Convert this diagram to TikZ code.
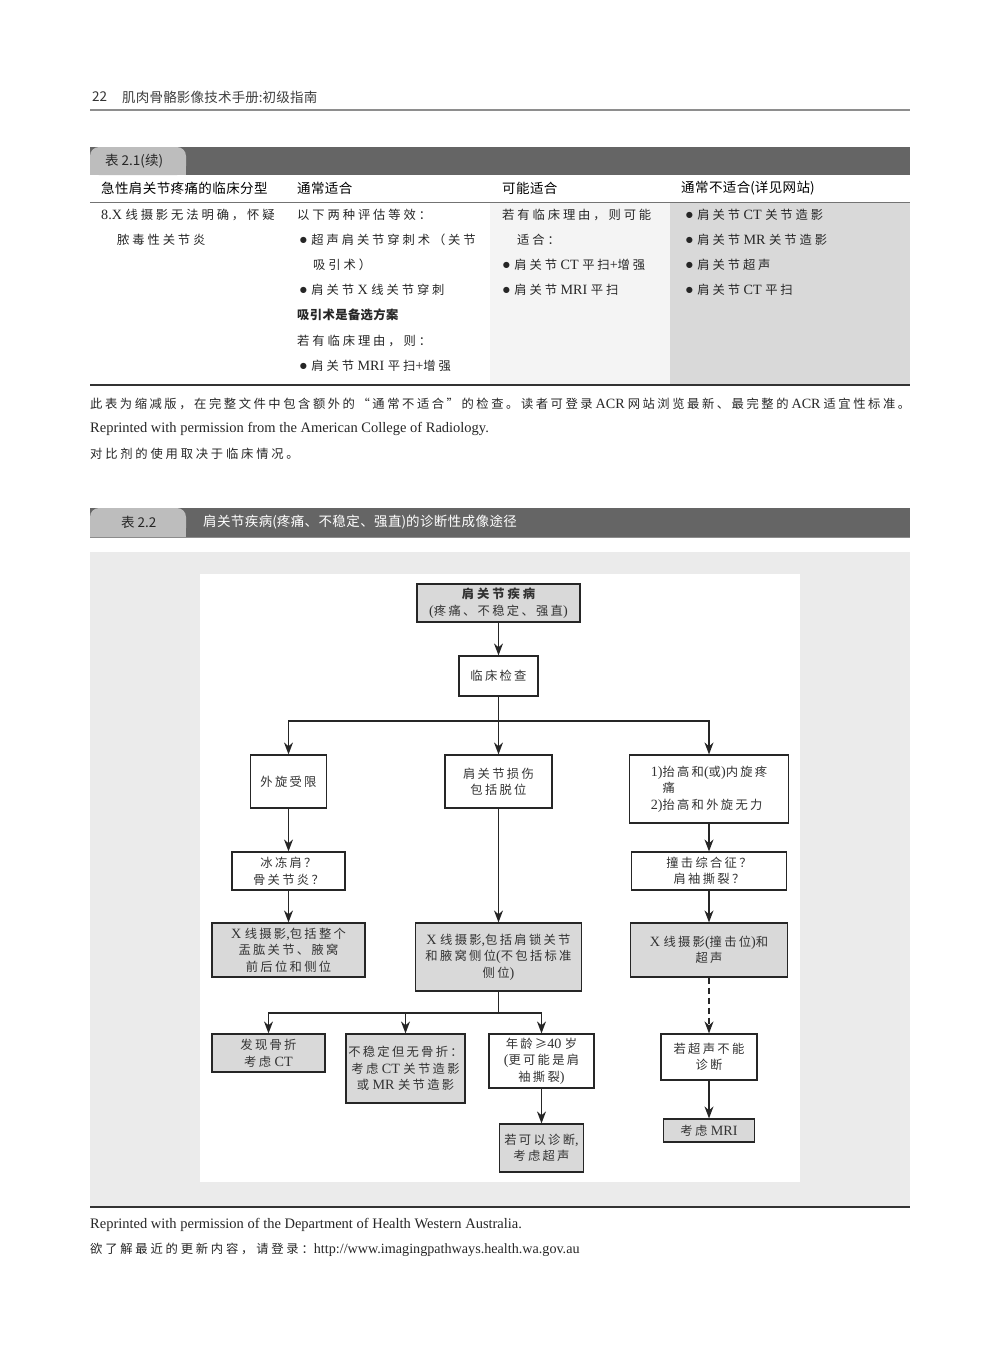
\documentclass[tikz,border=0pt]{standalone}
\usepackage{fontspec}
\setmainfont{Liberation Serif}[Scale=1.15]
\newfontfamily\cjk{Noto Sans CJK SC}
\usetikzlibrary{arrows.meta}

\definecolor{bardark}{HTML}{656565}
\definecolor{tabgray}{HTML}{BDBDBD}
\definecolor{colthree}{HTML}{F4F4F4}
\definecolor{colfour}{HTML}{D9D9D9}
\definecolor{panel}{HTML}{EBEBEB}
\definecolor{boxgray}{HTML}{D9D9D9}
\definecolor{boxline}{HTML}{262626}
\definecolor{headrule}{HTML}{8E8E8E}

% switch to the CJK font for Chinese characters
\XeTeXinterchartokenstate=1
\newXeTeXintercharclass\CJKcls
\newcount\cjkc
\newdimen\cjkgap
\newcommand\setgap[1]{\cjkgap #1\relax}
\newcommand\latinfont{\rmfamily}
\newcommand\allcjk{\cjk\let\latinfont\cjk}
\newcommand\bul{{\fontsize{12.5}{12}\selectfont ●}}
\def\cjkrange#1#2{\cjkc=#1\relax
  \loop\XeTeXcharclass\cjkc=\CJKcls\relax
  \ifnum\cjkc<#2\advance\cjkc by 1\relax\repeat}
\cjkrange{"3000}{"303F}
\cjkrange{"4E00}{"9FFF}
\cjkrange{"FF00}{"FFEF}
\XeTeXcharclass"2265=\CJKcls
\XeTeXcharclass"201C=\CJKcls
\XeTeXcharclass"201D=\CJKcls
\XeTeXinterchartoks 0 \CJKcls={\cjk}
\XeTeXinterchartoks 4095 \CJKcls={\cjk}
\XeTeXinterchartoks \CJKcls 0={\latinfont}
\XeTeXinterchartoks \CJKcls 4095={\latinfont}
\XeTeXinterchartoks \CJKcls \CJKcls={\hskip\cjkgap plus 1pt minus 0.5pt}

\begin{document}
\begin{tikzpicture}[x=1pt,y=-1pt,
  box/.style={draw=boxline,line width=1.2pt,fill=white,align=center,inner sep=2pt,
              text=black!80,font={\fontsize{12.3}{16.5}\selectfont\setgap{2.3pt}}},
  graybox/.style={box,fill=boxgray},
  arr/.style={-{Stealth[length=12pt,width=9pt]},line width=1.2pt,draw=boxline},
  bus/.style={line width=1.2pt,draw=boxline},
  txt/.style={anchor=west,inner sep=0pt,text=black!85,
              font={\fontsize{12.3}{14}\selectfont\setgap{2.8pt}}},
  cell/.style={anchor=north west,inner sep=0pt,align=left,text=black!85,
               font={\fontsize{12.3}{25.2}\selectfont\setgap{2.9pt}}},
  latin/.style={anchor=west,inner sep=0pt,text=black!85,font={\fontsize{12.6}{16}\selectfont}},
  head/.style={anchor=west,inner sep=0pt,text=black!85,
               font={\allcjk\fontsize{13.5}{16}\selectfont\setgap{0.4pt}}},
  tablerule/.style={line width=1.4pt,draw=black!80},
]
\useasboundingbox (0,0) rectangle (1000,1366);
\fill[white] (0,0) rectangle (1000,1366);

% running head
\node[head,text=black!80] (pagenum) at (92,97) {22};
\node[head,text=black!75,font={\allcjk\fontsize{13.5}{16}\selectfont\setgap{0.2pt}}] (runhead) at (122,97) {肌肉骨骼影像技术手册:初级指南};
\draw[line width=2pt,headrule] (90,110) -- (910,110);

% table 2.1
\fill[bardark] (90,147) rectangle (910,175);
\fill[tabgray,rounded corners=9pt] (90,147) rectangle (186,175);
\fill[tabgray] (90,162) rectangle (186,175);
\node[head] (tabone) at (105,161) {表 2.1(续)};
\node[head,text=black] (colA) at (101,188) {急性肩关节疼痛的临床分型};
\node[head,text=black] (colB) at (297,188) {通常适合};
\node[head,text=black] (colC) at (502,188) {可能适合};
\node[head,text=black] (colD) at (681,188) {通常不适合(详见网站)};
\fill[colthree] (490,202) rectangle (670,385);
\fill[colfour] (670,202) rectangle (910,385);
\draw[line width=0.8pt,black!55] (90,202) -- (910,202);
\draw[tablerule] (90,385) -- (910,385);

\node[cell] (cellA) at (101,208.5) {8.X 线摄影无法明确，怀疑\\\hspace*{16pt}脓毒性关节炎};
\node[cell] (cellB) at (297,208.5) {以下两种评估等效：\\
  \hspace*{2pt}\bul\ 超声肩关节穿刺术（关节\\
  \hspace*{16pt}吸引术）\\
  \hspace*{2pt}\bul\ 肩关节 X 线关节穿刺\\
  {\bfseries\setgap{0.4pt}吸引术是备选方案}\\
  若有临床理由，则：\\
  \hspace*{2pt}\bul\ 肩关节 MRI 平扫+增强};
\node[cell] (cellC) at (502,208.5) {若有临床理由，则可能\\
  \hspace*{15pt}适合：\\
  \bul\ 肩关节 CT 平扫+增强\\
  \bul\ 肩关节 MRI 平扫};
\node[cell] (cellD) at (685,208.5) {\bul\ 肩关节 CT 关节造影\\
  \bul\ 肩关节 MR 关节造影\\
  \bul\ 肩关节超声\\
  \bul\ 肩关节 CT 平扫};

\node[txt] (noteone) at (90,404) {\hbox to 820pt{此表为缩减版，在完整文件中包含额外的“通常不适合”的检查。读者可登录 ACR 网站浏览最新、最完整的 ACR 适宜性标准。}};
\node[latin] (notetwo) at (90,429) {Reprinted with permission from the American College of Radiology.};
\node[txt] (notethree) at (90,454) {对比剂的使用取决于临床情况。};

% table 2.2
\fill[bardark] (90,508) rectangle (910,537);
\fill[tabgray,rounded corners=9pt] (90,508) rectangle (186,537);
\fill[tabgray] (90,523) rectangle (186,537);
\draw[line width=1.5pt,black!45] (90,537.5) -- (910,537.5);
\node[head] (tabtwo) at (121,522) {表 2.2};
\node[head,text=white] (tabtitle) at (203,522) {肩关节疾病(疼痛、不稳定、强直)的诊断性成像途径};

\fill[panel] (90,552) rectangle (910,1207);
\fill[white] (200,574) rectangle (800,1182);
\draw[tablerule] (90,1207) -- (910,1207);

% flowchart
\node[graybox,minimum width=163pt,minimum height=38pt] (top) at (498.5,603)
  {{\bfseries\setgap{3pt}肩关节疾病}\\(疼痛、不稳定、强直)};
\node[box,minimum width=79pt,minimum height=40pt] (exam) at (498.5,676) {临床检查};
\node[box,minimum width=76pt,minimum height=53pt] (ext) at (288.5,781.5) {外旋受限};
\node[box,minimum width=107pt,minimum height=53pt] (inj) at (498.5,781.5) {肩关节损伤\\包括脱位};
\node[box,align=left,minimum width=159pt,minimum height=68pt] (pain) at (709,789)
  {1)抬高和(或)内旋疼\\\phantom{1)}痛\\2)抬高和外旋无力};
\node[box,minimum width=113pt,minimum height=38pt] (frozen) at (288.5,871) {冰冻肩？\\骨关节炎？};
\node[box,minimum width=155pt,minimum height=38pt] (imping) at (709,871) {撞击综合征？\\肩袖撕裂？};
\node[graybox,minimum width=153pt,minimum height=54pt] (xrL) at (288.5,950)
  {X 线摄影,包括整个\\盂肱关节、腋窝\\前后位和侧位};
\node[graybox,minimum width=166pt,minimum height=68pt] (xrM) at (498.5,957)
  {X 线摄影,包括肩锁关节\\和腋窝侧位(不包括标准\\侧位)};
\node[graybox,minimum width=157pt,minimum height=54pt] (xrR) at (709,950)
  {X 线摄影(撞击位)和\\超声};
\node[graybox,minimum width=113pt,minimum height=38pt] (frac) at (268.5,1053) {发现骨折\\考虑 CT};
\node[graybox,minimum width=119pt,minimum height=69pt] (unst) at (405.5,1068.5)
  {不稳定但无骨折：\\考虑 CT 关节造影\\或 MR 关节造影};
\node[box,minimum width=105pt,minimum height=54pt] (age) at (541.5,1061)
  {年龄≥40 岁\\(更可能是肩\\袖撕裂)};
\node[graybox,minimum width=84pt,minimum height=48pt] (us) at (541.5,1148) {若可以诊断,\\考虑超声};
\node[box,minimum width=96pt,minimum height=46pt] (nodx) at (709,1057) {若超声不能\\诊断};
\node[graybox,minimum width=91pt,minimum height=23pt] (mri) at (709,1130.5) {考虑 MRI};

\coordinate (split) at (498.5,721);
\coordinate (splittwo) at (498.5,1013);

\draw[arr] (top) -- (exam);
\draw[bus] (exam) -- (split);
\draw[arr] (split) -| (ext);
\draw[arr] (split) -- (inj);
\draw[arr] (split) -| (pain);
\draw[arr] (ext) -- (frozen);
\draw[arr] (frozen) -- (xrL);
\draw[arr] (inj) -- (xrM);
\draw[arr] (pain) -- (imping);
\draw[arr] (imping) -- (xrR);
\draw[bus] (xrM) -- (splittwo);
\draw[arr] (splittwo) -| (frac);
\draw[arr] (splittwo) -| (unst);
\draw[arr] (splittwo) -| (age);
\draw[arr] (age) -- (us);
\draw[arr,dash pattern=on 6pt off 4pt] (xrR) -- (nodx);
\draw[arr] (nodx) -- (mri);

% source lines
\node[latin] (srcone) at (90,1225) {Reprinted with permission of the Department of Health Western Australia.};
\node[txt] (srctwo) at (90,1250) {欲了解最近的更新内容，请登录：http://www.imagingpathways.health.wa.gov.au};
\end{tikzpicture}
\end{document}
